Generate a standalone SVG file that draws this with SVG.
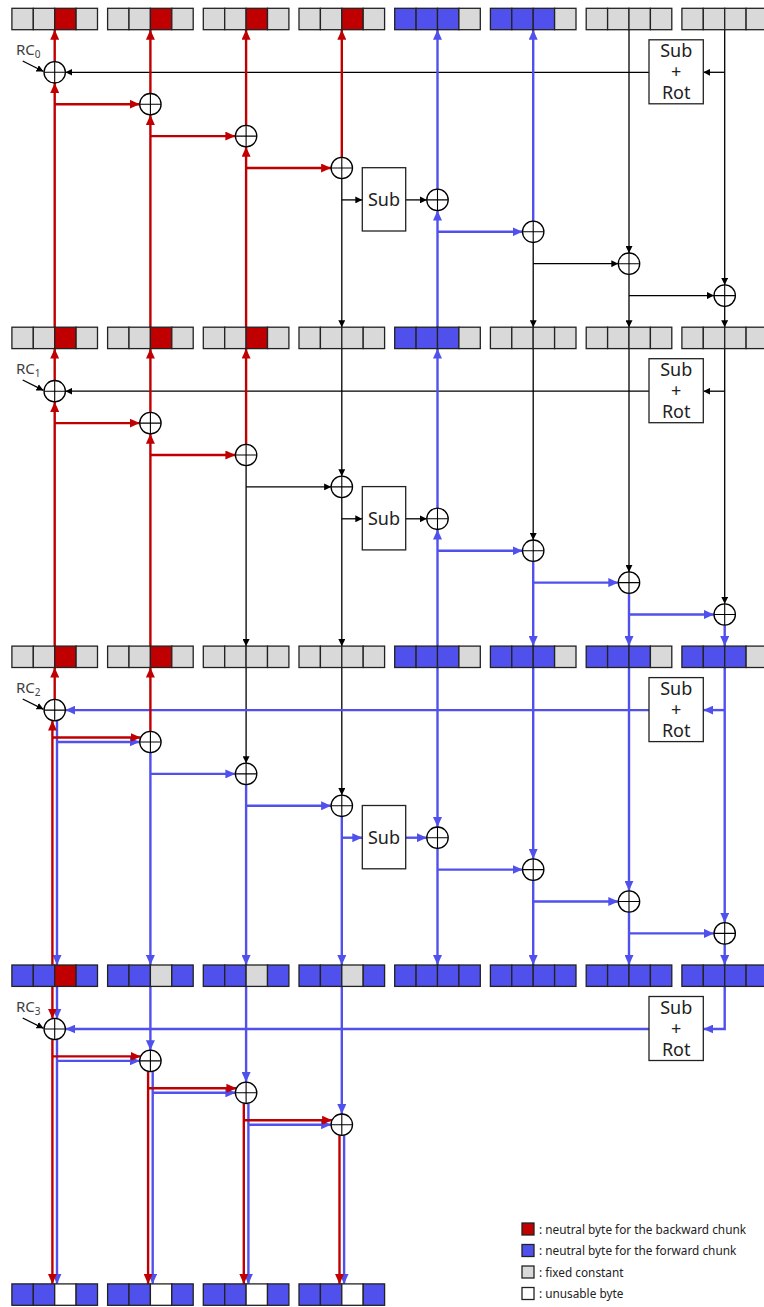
<svg xmlns="http://www.w3.org/2000/svg" xmlns:xlink="http://www.w3.org/1999/xlink" width="764" height="1307" viewBox="0 0 764 1307">
<style>
.c{stroke:#222;stroke-width:1.3}
.g{fill:#D9D9D9}.r{fill:#C00000}.b{fill:#5050EC}.w{fill:#fff}
.lr{stroke:#C00000;stroke-width:2.4;fill:none;marker-end:url(#mr)}
.lb{stroke:#5050EC;stroke-width:2.4;fill:none;marker-end:url(#mb)}
.lk{stroke:#000;stroke-width:1.3;fill:none;marker-end:url(#mk)}
.box{fill:#fff;stroke:#222;stroke-width:1.3}
.t{font-family:"Noto Sans","DejaVu Sans",sans-serif;fill:#222}
.bt{font-size:18px;text-anchor:middle}
.rc{font-size:15px;fill:#404040}
.lg{font-size:11.8px}
</style>
<defs>
<marker id="mr" viewBox="0 0 10 9" refX="10" refY="4.5" markerWidth="10" markerHeight="9" markerUnits="userSpaceOnUse" orient="auto"><path d="M0,0L10,4.5L0,9z" fill="#C00000"/></marker>
<marker id="mb" viewBox="0 0 10 9" refX="10" refY="4.5" markerWidth="10" markerHeight="9" markerUnits="userSpaceOnUse" orient="auto"><path d="M0,0L10,4.5L0,9z" fill="#5050EC"/></marker>
<marker id="mk" viewBox="0 0 7 7" refX="7" refY="3.5" markerWidth="7" markerHeight="7" markerUnits="userSpaceOnUse" orient="auto"><path d="M0,0L7,3.5L0,7z" fill="#000"/></marker>
<g id="xorT"><circle r="10.7" fill="#fff" stroke="#000" stroke-width="1.3"/><path d="M-10.7,0H10.7M0,-10.7V10.7" stroke="#000" stroke-width="1.1"/></g>
<g id="subrotT"><rect x="0" y="0" width="54.3" height="64" class="box"/><text class="t bt" x="27.2" y="17">Sub</text><text class="t bt" x="27.2" y="38.5">+</text><text class="t bt" x="27.2" y="59.5">Rot</text></g>
<g id="subT"><rect x="0" y="0" width="43.4" height="63.3" class="box"/><text class="t bt" x="21.7" y="38">Sub</text></g>
</defs>

<g id="connectors">
<g id="conn-s0">
<path class="lk" d="M724.7,29.7V284.9"/>
<path class="lk" d="M724.7,306.3V327.2"/>
<path class="lk" d="M724.7,72.3H703.3"/>
<path class="lk" d="M649,72.3H65.4"/>
<path class="lk" d="M629,29.7V253"/>
<path class="lk" d="M629,274.4V327.2"/>
<path class="lk" d="M629,295.6H714"/>
<path class="lk" d="M533.2,242.5V327.2"/>
<path class="lk" d="M533.2,263.7H618.3"/>
<path class="lk" d="M341.8,178.7V327.2"/>
<path class="lk" d="M341.8,199.9H362.3"/>
<path class="lk" d="M405.7,199.9H426.8"/>
<path class="lk" d="M22.7,61L43.5,71.5"/>
<path class="lb" d="M437.5,327.2V210.6"/>
<path class="lb" d="M437.5,189.2V29.7"/>
<path class="lb" d="M437.5,231.8H522.5"/>
<path class="lb" d="M533.2,221.1V29.7"/>
<path class="lr" d="M54.7,327.2V83"/>
<path class="lr" d="M54.7,61.6V29.7"/>
<path class="lr" d="M54.7,104.2H139.7"/>
<path class="lr" d="M150.4,327.2V114.9"/>
<path class="lr" d="M150.4,93.5V29.7"/>
<path class="lr" d="M150.4,136.1H235.4"/>
<path class="lr" d="M246.1,327.2V146.8"/>
<path class="lr" d="M246.1,125.4V29.7"/>
<path class="lr" d="M246.1,168H331.1"/>
<path class="lr" d="M341.8,157.3V29.7"/>
</g>
<g id="conn-s1">
<path class="lk" d="M724.7,348.6V603.8"/>
<path class="lk" d="M724.7,391.2H703.3"/>
<path class="lk" d="M649,391.2H65.4"/>
<path class="lk" d="M629,348.6V571.9"/>
<path class="lk" d="M533.2,348.6V540"/>
<path class="lk" d="M341.8,348.6V476.2"/>
<path class="lk" d="M341.8,497.6V646.1"/>
<path class="lk" d="M341.8,518.8H362.3"/>
<path class="lk" d="M405.7,518.8H426.8"/>
<path class="lk" d="M246.1,465.7V646.1"/>
<path class="lk" d="M246.1,486.9H331.1"/>
<path class="lk" d="M22.7,380L43.5,390.4"/>
<path class="lb" d="M724.7,625.2V646.1"/>
<path class="lb" d="M629,593.3V646.1"/>
<path class="lb" d="M629,614.5H714"/>
<path class="lb" d="M533.2,561.4V646.1"/>
<path class="lb" d="M533.2,582.6H618.3"/>
<path class="lb" d="M437.5,646.1V529.5"/>
<path class="lb" d="M437.5,508.1V348.6"/>
<path class="lb" d="M437.5,550.7H522.5"/>
<path class="lr" d="M54.7,646.1V401.9"/>
<path class="lr" d="M54.7,380.5V348.6"/>
<path class="lr" d="M54.7,423.1H139.7"/>
<path class="lr" d="M150.4,646.1V433.8"/>
<path class="lr" d="M150.4,412.4V348.6"/>
<path class="lr" d="M150.4,455H235.4"/>
<path class="lr" d="M246.1,444.3V348.6"/>
</g>
<g id="conn-s2">
<path class="lk" d="M246.1,667.5V763.2"/>
<path class="lk" d="M341.8,667.5V795.1"/>
<path class="lk" d="M22.7,699L43.5,709.3"/>
<path class="lb" d="M724.7,667.5V922.7"/>
<path class="lb" d="M724.7,944.1V965"/>
<path class="lb" d="M724.7,710.1H703.3"/>
<path class="lb" d="M649,710.1H65.4"/>
<path class="lb" d="M629,667.5V890.8"/>
<path class="lb" d="M629,912.2V965"/>
<path class="lb" d="M629,933.4H714"/>
<path class="lb" d="M533.2,667.5V858.9"/>
<path class="lb" d="M533.2,880.3V965"/>
<path class="lb" d="M533.2,901.5H618.3"/>
<path class="lb" d="M437.5,667.5V827"/>
<path class="lb" d="M437.5,848.4V965"/>
<path class="lb" d="M437.5,869.6H522.5"/>
<path class="lb" d="M341.8,816.5V965"/>
<path class="lb" d="M341.8,837.7H362.3"/>
<path class="lb" d="M405.7,837.7H426.8"/>
<path class="lb" d="M246.1,784.6V965"/>
<path class="lb" d="M246.1,805.8H331.1"/>
<path class="lb" d="M150.4,752.7V965"/>
<path class="lb" d="M150.4,773.9H235.4"/>
<path class="lb" d="M57,720.6V965"/>
<path class="lb" d="M57,742H139.7"/>
<path class="lr" d="M52.4,965V720.6"/>
<path class="lr" d="M54.7,699.4V667.5"/>
<path class="lr" d="M52.4,737.5H140.7"/>
<path class="lr" d="M150.4,731.3V667.5"/>
</g>
<g id="conn-s3">
<path class="lk" d="M22.7,1018L43.5,1028.3"/>
<path class="lb" d="M724.7,986.4V1029H703.3"/>
<path class="lb" d="M649,1029H65.4"/>
<path class="lb" d="M57,986.4V1018.6"/>
<path class="lb" d="M57,1039.4V1283.9"/>
<path class="lb" d="M57,1060.9H139.7"/>
<path class="lb" d="M150.4,986.4V1050.2"/>
<path class="lb" d="M152.7,1071.3V1283.9"/>
<path class="lb" d="M152.7,1092.8H235.4"/>
<path class="lb" d="M246.1,986.4V1082.1"/>
<path class="lb" d="M248.4,1103.2V1283.9"/>
<path class="lb" d="M248.4,1124.7H331.1"/>
<path class="lb" d="M341.8,986.4V1114"/>
<path class="lb" d="M344.1,1135.1V1283.9"/>
<path class="lr" d="M52.4,986.4V1018.6"/>
<path class="lr" d="M52.4,1039.4V1283.9"/>
<path class="lr" d="M52.4,1056.4H140.7"/>
<path class="lr" d="M148.1,1071.3V1283.9"/>
<path class="lr" d="M148.1,1088.3H236.4"/>
<path class="lr" d="M243.8,1103.2V1283.9"/>
<path class="lr" d="M243.8,1120.2H332.1"/>
<path class="lr" d="M339.5,1135.1V1283.9"/>
</g>
</g>

<g id="row0">
<g id="w0-0" transform="translate(11.9,8.3)"><rect class="c g" x="0" width="21.4" height="21.4"/><rect class="c g" x="21.4" width="21.4" height="21.4"/><rect class="c r" x="42.8" width="21.4" height="21.4"/><rect class="c g" x="64.2" width="21.4" height="21.4"/></g>
<g id="w0-1" transform="translate(107.6,8.3)"><rect class="c g" x="0" width="21.4" height="21.4"/><rect class="c g" x="21.4" width="21.4" height="21.4"/><rect class="c r" x="42.8" width="21.4" height="21.4"/><rect class="c g" x="64.2" width="21.4" height="21.4"/></g>
<g id="w0-2" transform="translate(203.3,8.3)"><rect class="c g" x="0" width="21.4" height="21.4"/><rect class="c g" x="21.4" width="21.4" height="21.4"/><rect class="c r" x="42.8" width="21.4" height="21.4"/><rect class="c g" x="64.2" width="21.4" height="21.4"/></g>
<g id="w0-3" transform="translate(299,8.3)"><rect class="c g" x="0" width="21.4" height="21.4"/><rect class="c g" x="21.4" width="21.4" height="21.4"/><rect class="c r" x="42.8" width="21.4" height="21.4"/><rect class="c g" x="64.2" width="21.4" height="21.4"/></g>
<g id="w0-4" transform="translate(394.7,8.3)"><rect class="c b" x="0" width="21.4" height="21.4"/><rect class="c b" x="21.4" width="21.4" height="21.4"/><rect class="c b" x="42.8" width="21.4" height="21.4"/><rect class="c g" x="64.2" width="21.4" height="21.4"/></g>
<g id="w0-5" transform="translate(490.4,8.3)"><rect class="c b" x="0" width="21.4" height="21.4"/><rect class="c b" x="21.4" width="21.4" height="21.4"/><rect class="c b" x="42.8" width="21.4" height="21.4"/><rect class="c g" x="64.2" width="21.4" height="21.4"/></g>
<g id="w0-6" transform="translate(586.2,8.3)"><rect class="c g" x="0" width="21.4" height="21.4"/><rect class="c g" x="21.4" width="21.4" height="21.4"/><rect class="c g" x="42.8" width="21.4" height="21.4"/><rect class="c g" x="64.2" width="21.4" height="21.4"/></g>
<g id="w0-7" transform="translate(681.9,8.3)"><rect class="c g" x="0" width="21.4" height="21.4"/><rect class="c g" x="21.4" width="21.4" height="21.4"/><rect class="c g" x="42.8" width="21.4" height="21.4"/><rect class="c g" x="64.2" width="21.4" height="21.4"/></g>
</g>
<g id="row1">
<g id="w1-0" transform="translate(11.9,327.2)"><rect class="c g" x="0" width="21.4" height="21.4"/><rect class="c g" x="21.4" width="21.4" height="21.4"/><rect class="c r" x="42.8" width="21.4" height="21.4"/><rect class="c g" x="64.2" width="21.4" height="21.4"/></g>
<g id="w1-1" transform="translate(107.6,327.2)"><rect class="c g" x="0" width="21.4" height="21.4"/><rect class="c g" x="21.4" width="21.4" height="21.4"/><rect class="c r" x="42.8" width="21.4" height="21.4"/><rect class="c g" x="64.2" width="21.4" height="21.4"/></g>
<g id="w1-2" transform="translate(203.3,327.2)"><rect class="c g" x="0" width="21.4" height="21.4"/><rect class="c g" x="21.4" width="21.4" height="21.4"/><rect class="c r" x="42.8" width="21.4" height="21.4"/><rect class="c g" x="64.2" width="21.4" height="21.4"/></g>
<g id="w1-3" transform="translate(299,327.2)"><rect class="c g" x="0" width="21.4" height="21.4"/><rect class="c g" x="21.4" width="21.4" height="21.4"/><rect class="c g" x="42.8" width="21.4" height="21.4"/><rect class="c g" x="64.2" width="21.4" height="21.4"/></g>
<g id="w1-4" transform="translate(394.7,327.2)"><rect class="c b" x="0" width="21.4" height="21.4"/><rect class="c b" x="21.4" width="21.4" height="21.4"/><rect class="c b" x="42.8" width="21.4" height="21.4"/><rect class="c g" x="64.2" width="21.4" height="21.4"/></g>
<g id="w1-5" transform="translate(490.4,327.2)"><rect class="c g" x="0" width="21.4" height="21.4"/><rect class="c g" x="21.4" width="21.4" height="21.4"/><rect class="c g" x="42.8" width="21.4" height="21.4"/><rect class="c g" x="64.2" width="21.4" height="21.4"/></g>
<g id="w1-6" transform="translate(586.2,327.2)"><rect class="c g" x="0" width="21.4" height="21.4"/><rect class="c g" x="21.4" width="21.4" height="21.4"/><rect class="c g" x="42.8" width="21.4" height="21.4"/><rect class="c g" x="64.2" width="21.4" height="21.4"/></g>
<g id="w1-7" transform="translate(681.9,327.2)"><rect class="c g" x="0" width="21.4" height="21.4"/><rect class="c g" x="21.4" width="21.4" height="21.4"/><rect class="c g" x="42.8" width="21.4" height="21.4"/><rect class="c g" x="64.2" width="21.4" height="21.4"/></g>
</g>
<g id="row2">
<g id="w2-0" transform="translate(11.9,646.1)"><rect class="c g" x="0" width="21.4" height="21.4"/><rect class="c g" x="21.4" width="21.4" height="21.4"/><rect class="c r" x="42.8" width="21.4" height="21.4"/><rect class="c g" x="64.2" width="21.4" height="21.4"/></g>
<g id="w2-1" transform="translate(107.6,646.1)"><rect class="c g" x="0" width="21.4" height="21.4"/><rect class="c g" x="21.4" width="21.4" height="21.4"/><rect class="c r" x="42.8" width="21.4" height="21.4"/><rect class="c g" x="64.2" width="21.4" height="21.4"/></g>
<g id="w2-2" transform="translate(203.3,646.1)"><rect class="c g" x="0" width="21.4" height="21.4"/><rect class="c g" x="21.4" width="21.4" height="21.4"/><rect class="c g" x="42.8" width="21.4" height="21.4"/><rect class="c g" x="64.2" width="21.4" height="21.4"/></g>
<g id="w2-3" transform="translate(299,646.1)"><rect class="c g" x="0" width="21.4" height="21.4"/><rect class="c g" x="21.4" width="21.4" height="21.4"/><rect class="c g" x="42.8" width="21.4" height="21.4"/><rect class="c g" x="64.2" width="21.4" height="21.4"/></g>
<g id="w2-4" transform="translate(394.7,646.1)"><rect class="c b" x="0" width="21.4" height="21.4"/><rect class="c b" x="21.4" width="21.4" height="21.4"/><rect class="c b" x="42.8" width="21.4" height="21.4"/><rect class="c g" x="64.2" width="21.4" height="21.4"/></g>
<g id="w2-5" transform="translate(490.4,646.1)"><rect class="c b" x="0" width="21.4" height="21.4"/><rect class="c b" x="21.4" width="21.4" height="21.4"/><rect class="c b" x="42.8" width="21.4" height="21.4"/><rect class="c g" x="64.2" width="21.4" height="21.4"/></g>
<g id="w2-6" transform="translate(586.2,646.1)"><rect class="c b" x="0" width="21.4" height="21.4"/><rect class="c b" x="21.4" width="21.4" height="21.4"/><rect class="c b" x="42.8" width="21.4" height="21.4"/><rect class="c g" x="64.2" width="21.4" height="21.4"/></g>
<g id="w2-7" transform="translate(681.9,646.1)"><rect class="c b" x="0" width="21.4" height="21.4"/><rect class="c b" x="21.4" width="21.4" height="21.4"/><rect class="c b" x="42.8" width="21.4" height="21.4"/><rect class="c g" x="64.2" width="21.4" height="21.4"/></g>
</g>
<g id="row3">
<g id="w3-0" transform="translate(11.9,965)"><rect class="c b" x="0" width="21.4" height="21.4"/><rect class="c b" x="21.4" width="21.4" height="21.4"/><rect class="c r" x="42.8" width="21.4" height="21.4"/><rect class="c b" x="64.2" width="21.4" height="21.4"/></g>
<g id="w3-1" transform="translate(107.6,965)"><rect class="c b" x="0" width="21.4" height="21.4"/><rect class="c b" x="21.4" width="21.4" height="21.4"/><rect class="c g" x="42.8" width="21.4" height="21.4"/><rect class="c b" x="64.2" width="21.4" height="21.4"/></g>
<g id="w3-2" transform="translate(203.3,965)"><rect class="c b" x="0" width="21.4" height="21.4"/><rect class="c b" x="21.4" width="21.4" height="21.4"/><rect class="c g" x="42.8" width="21.4" height="21.4"/><rect class="c b" x="64.2" width="21.4" height="21.4"/></g>
<g id="w3-3" transform="translate(299,965)"><rect class="c b" x="0" width="21.4" height="21.4"/><rect class="c b" x="21.4" width="21.4" height="21.4"/><rect class="c g" x="42.8" width="21.4" height="21.4"/><rect class="c b" x="64.2" width="21.4" height="21.4"/></g>
<g id="w3-4" transform="translate(394.7,965)"><rect class="c b" x="0" width="21.4" height="21.4"/><rect class="c b" x="21.4" width="21.4" height="21.4"/><rect class="c b" x="42.8" width="21.4" height="21.4"/><rect class="c b" x="64.2" width="21.4" height="21.4"/></g>
<g id="w3-5" transform="translate(490.4,965)"><rect class="c b" x="0" width="21.4" height="21.4"/><rect class="c b" x="21.4" width="21.4" height="21.4"/><rect class="c b" x="42.8" width="21.4" height="21.4"/><rect class="c b" x="64.2" width="21.4" height="21.4"/></g>
<g id="w3-6" transform="translate(586.2,965)"><rect class="c b" x="0" width="21.4" height="21.4"/><rect class="c b" x="21.4" width="21.4" height="21.4"/><rect class="c b" x="42.8" width="21.4" height="21.4"/><rect class="c b" x="64.2" width="21.4" height="21.4"/></g>
<g id="w3-7" transform="translate(681.9,965)"><rect class="c b" x="0" width="21.4" height="21.4"/><rect class="c b" x="21.4" width="21.4" height="21.4"/><rect class="c b" x="42.8" width="21.4" height="21.4"/><rect class="c b" x="64.2" width="21.4" height="21.4"/></g>
</g>
<g id="row4">
<g id="w4-0" transform="translate(11.9,1283.9)"><rect class="c b" x="0" width="21.4" height="21.4"/><rect class="c b" x="21.4" width="21.4" height="21.4"/><rect class="c w" x="42.8" width="21.4" height="21.4"/><rect class="c b" x="64.2" width="21.4" height="21.4"/></g>
<g id="w4-1" transform="translate(107.6,1283.9)"><rect class="c b" x="0" width="21.4" height="21.4"/><rect class="c b" x="21.4" width="21.4" height="21.4"/><rect class="c w" x="42.8" width="21.4" height="21.4"/><rect class="c b" x="64.2" width="21.4" height="21.4"/></g>
<g id="w4-2" transform="translate(203.3,1283.9)"><rect class="c b" x="0" width="21.4" height="21.4"/><rect class="c b" x="21.4" width="21.4" height="21.4"/><rect class="c w" x="42.8" width="21.4" height="21.4"/><rect class="c b" x="64.2" width="21.4" height="21.4"/></g>
<g id="w4-3" transform="translate(299,1283.9)"><rect class="c b" x="0" width="21.4" height="21.4"/><rect class="c b" x="21.4" width="21.4" height="21.4"/><rect class="c w" x="42.8" width="21.4" height="21.4"/><rect class="c b" x="64.2" width="21.4" height="21.4"/></g>
</g>

<g id="xors">
<g id="x0-0"><use href="#xorT" x="54.7" y="72.3"/></g>
<g id="x0-1"><use href="#xorT" x="150.4" y="104.2"/></g>
<g id="x0-2"><use href="#xorT" x="246.1" y="136.1"/></g>
<g id="x0-3"><use href="#xorT" x="341.8" y="168"/></g>
<g id="x0-4"><use href="#xorT" x="437.5" y="199.9"/></g>
<g id="x0-5"><use href="#xorT" x="533.2" y="231.8"/></g>
<g id="x0-6"><use href="#xorT" x="629" y="263.7"/></g>
<g id="x0-7"><use href="#xorT" x="724.7" y="295.6"/></g>
<g id="x1-0"><use href="#xorT" x="54.7" y="391.2"/></g>
<g id="x1-1"><use href="#xorT" x="150.4" y="423.1"/></g>
<g id="x1-2"><use href="#xorT" x="246.1" y="455"/></g>
<g id="x1-3"><use href="#xorT" x="341.8" y="486.9"/></g>
<g id="x1-4"><use href="#xorT" x="437.5" y="518.8"/></g>
<g id="x1-5"><use href="#xorT" x="533.2" y="550.7"/></g>
<g id="x1-6"><use href="#xorT" x="629" y="582.6"/></g>
<g id="x1-7"><use href="#xorT" x="724.7" y="614.5"/></g>
<g id="x2-0"><use href="#xorT" x="54.7" y="710.1"/></g>
<g id="x2-1"><use href="#xorT" x="150.4" y="742"/></g>
<g id="x2-2"><use href="#xorT" x="246.1" y="773.9"/></g>
<g id="x2-3"><use href="#xorT" x="341.8" y="805.8"/></g>
<g id="x2-4"><use href="#xorT" x="437.5" y="837.7"/></g>
<g id="x2-5"><use href="#xorT" x="533.2" y="869.6"/></g>
<g id="x2-6"><use href="#xorT" x="629" y="901.5"/></g>
<g id="x2-7"><use href="#xorT" x="724.7" y="933.4"/></g>
<g id="x3-0"><use href="#xorT" x="54.7" y="1029"/></g>
<g id="x3-1"><use href="#xorT" x="150.4" y="1060.9"/></g>
<g id="x3-2"><use href="#xorT" x="246.1" y="1092.8"/></g>
<g id="x3-3"><use href="#xorT" x="341.8" y="1124.7"/></g>
</g>

<g id="subrot0"><use href="#subrotT" x="649" y="39.8"/></g>
<g id="subrot1"><use href="#subrotT" x="649" y="358.7"/></g>
<g id="subrot2"><use href="#subrotT" x="649" y="677.6"/></g>
<g id="subrot3"><use href="#subrotT" x="649" y="996.5"/></g>
<g id="sub0"><use href="#subT" x="362.3" y="167.7"/></g>
<g id="sub1"><use href="#subT" x="362.3" y="486.6"/></g>
<g id="sub2"><use href="#subT" x="362.3" y="805.5"/></g>

<g id="rc0"><text class="t rc" x="16" y="55">RC<tspan font-size="10" dy="2.5">0</tspan></text></g>
<g id="rc1"><text class="t rc" x="16" y="374">RC<tspan font-size="10" dy="2.5">1</tspan></text></g>
<g id="rc2"><text class="t rc" x="16" y="693">RC<tspan font-size="10" dy="2.5">2</tspan></text></g>
<g id="rc3"><text class="t rc" x="16" y="1012">RC<tspan font-size="10" dy="2.5">3</tspan></text></g>

<g id="legend">
<rect class="c r" x="522" y="1223" width="12" height="12"/>
<text class="t lg" x="539" y="1233.5">: neutral byte for the backward chunk</text>
<rect class="c b" x="522" y="1244.5" width="12" height="12"/>
<text class="t lg" x="539" y="1255">: neutral byte for the forward chunk</text>
<rect class="c g" x="522" y="1266" width="12" height="12"/>
<text class="t lg" x="539" y="1276.5">: fixed constant</text>
<rect class="c w" x="522" y="1287.5" width="12" height="12"/>
<text class="t lg" x="539" y="1298">: unusable byte</text>
</g>
</svg>
